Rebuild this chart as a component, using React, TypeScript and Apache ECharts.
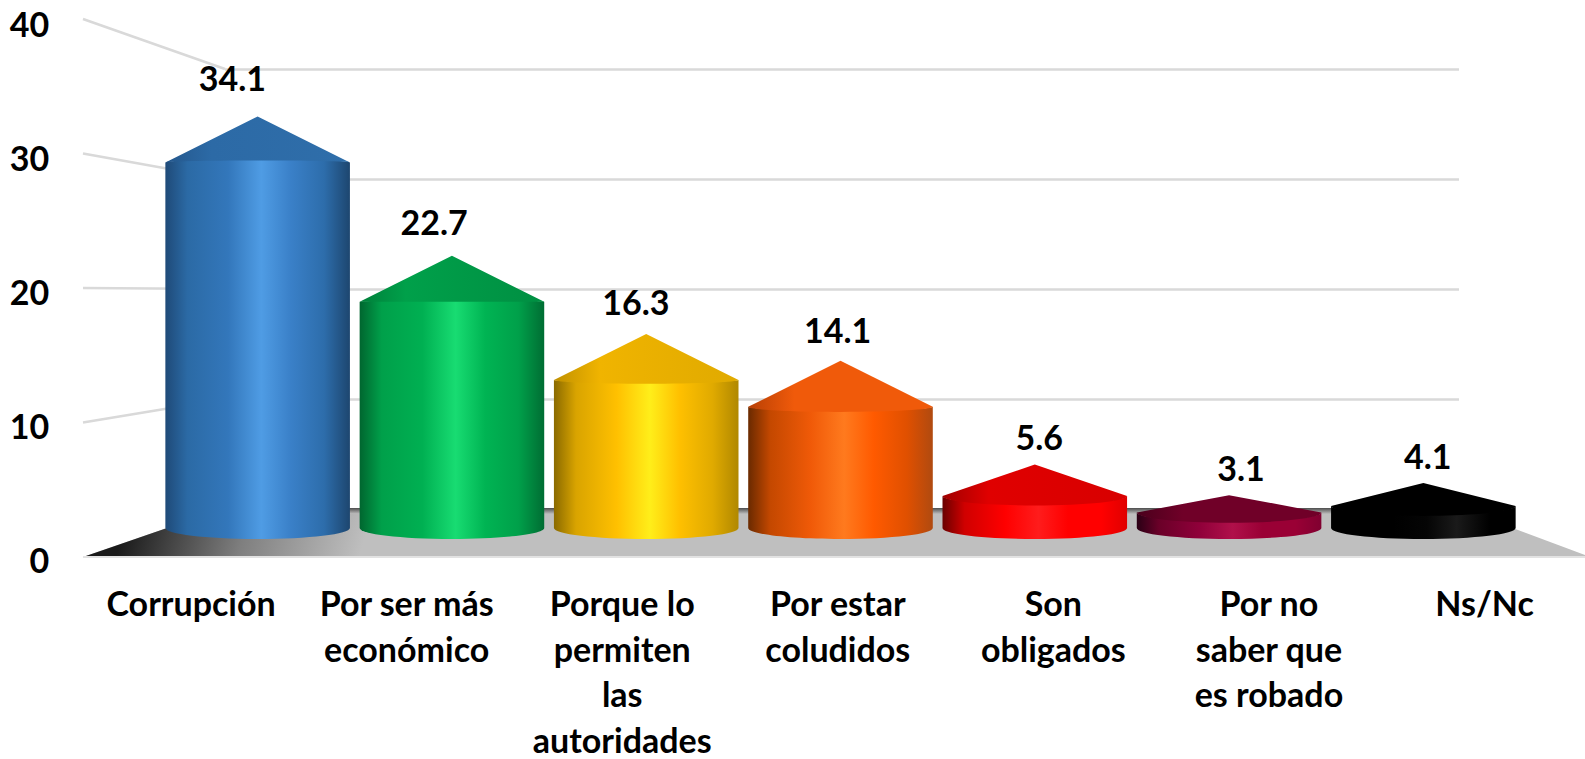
import React, { useEffect, useRef } from "react";
import * as echarts from "echarts";

const categories = [
  "Corrupción",
  "Por ser más\neconómico",
  "Porque lo\npermiten\nlas\nautoridades",
  "Por estar\ncoludidos",
  "Son\nobligados",
  "Por no\nsaber que\nes robado",
  "Ns/Nc",
];
const values = [34.1, 22.7, 16.3, 14.1, 5.6, 3.1, 4.1];
const yTicks = [0, 10, 20, 30, 40];

const bodyStops = [0, 0.12, 0.34, 0.52, 0.68, 0.86, 1];
const bodyColors = [
  ["#1f4a78", "#2b6aa5", "#3377bb", "#4f9ce4", "#3a80c8", "#2d6dab", "#1d466f"],
  ["#00662f", "#00a04a", "#00b052", "#18dc72", "#00b453", "#00a04a", "#006d33"],
  ["#8a6a00", "#d9a400", "#ffc000", "#ffee1a", "#ffc000", "#e0aa00", "#b08800"],
  ["#6a2a00", "#c44800", "#f05a08", "#ff7a1e", "#ff5a00", "#e05000", "#b04a10"],
  ["#6a0000", "#d00000", "#ff0000", "#ff1c1c", "#ff0000", "#ff0000", "#e00000"],
  ["#2a0015", "#6a0028", "#90003a", "#b0104a", "#9a0035", "#9a0035", "#800030"],
  ["#000000", "#000000", "#000000", "#050505", "#1a1a1a", "#000000", "#000000"],
];
const coneColors = [
  ["#24578c", "#2c6aa6", "#2f6eaa"],
  ["#007f3a", "#00a04a", "#008f42"],
  ["#c09000", "#f0b400", "#e0aa00"],
  ["#b84005", "#f05a0a", "#f05a0a"],
  ["#a00000", "#e00000", "#d80000"],
  ["#4a001c", "#700028", "#700028"],
  ["#000000", "#000000", "#000000"],
];

const FONT = "Lato";
const FONT_SIZE = 34;
const GRID_COLOR = "#d9d9d9";
// chart planes: axis-label plane, back wall, bar plane, value-label plane
const FRONT = { left: 83.3, top: 23.3, width: 1509, height: 535.7 };
const WALL_FRONT = { left: 83, top: 19, height: 538 };
const BACK = { left: 225, top: 69, width: 1234, height: 440 };
const MID = { left: 160.5, top: 44.5, width: 1360, height: 488.5 };
const LABEL = { left: 131.6, top: 3.6, width: 1412, height: 503.4 };

const K = 0.5523;
function arcTo(ctx: any, x0: number, x1: number, y: number, ry: number) {
  const cx = (x0 + x1) / 2;
  const rx = (x1 - x0) / 2;
  ctx.bezierCurveTo(x0, y + ry * K, cx - rx * K, y + ry, cx, y + ry);
  ctx.bezierCurveTo(cx + rx * K, y + ry, x1, y + ry * K, x1, y);
}

echarts.graphic.registerShape(
  "cylBody",
  echarts.graphic.extendShape({
    shape: { cx: 0, w: 0, top: 0, topRy: 0, base: 0, baseRy: 0 },
    buildPath(ctx: any, s: any) {
      ctx.moveTo(s.cx - s.w, s.top);
      ctx.lineTo(s.cx - s.w, s.base);
      arcTo(ctx, s.cx - s.w, s.cx + s.w, s.base, s.baseRy);
      ctx.lineTo(s.cx + s.w, s.top);
      const rx = s.w;
      ctx.bezierCurveTo(s.cx + s.w, s.top + s.topRy * K, s.cx + rx * K, s.top + s.topRy, s.cx, s.top + s.topRy);
      ctx.bezierCurveTo(s.cx - rx * K, s.top + s.topRy, s.cx - s.w, s.top + s.topRy * K, s.cx - s.w, s.top);
      ctx.closePath();
    },
  })
);
echarts.graphic.registerShape(
  "cylCone",
  echarts.graphic.extendShape({
    shape: { cx: 0, w: 0, apex: 0, top: 0, topRy: 0 },
    buildPath(ctx: any, s: any) {
      ctx.moveTo(s.cx, s.apex);
      ctx.lineTo(s.cx - s.w, s.top);
      arcTo(ctx, s.cx - s.w, s.cx + s.w, s.top, s.topRy);
      ctx.closePath();
    },
  })
);

function hGrad(colors: string[], stops: number[]) {
  return new echarts.graphic.LinearGradient(
    0, 0, 1, 0,
    colors.map((color, i) => ({ offset: stops[i], color }))
  );
}

function renderBar(params: any, api: any) {
  const i = api.value(0);
  const v = api.value(1);
  const [cx, apex] = api.coord([i, v]);
  const floor = api.coord([i, 0])[1];
  const base = floor - 5;
  const w = api.size([1, 0])[0] * 0.475;
  const h = floor - apex;
  const shoulder = Math.min(46, h * 0.46);
  const top = apex + shoulder;
  const topRy = Math.max(-2, ((top - 303) / 225) * 11);
  return {
    type: "group",
    children: [
      {
        type: "cylBody",
        shape: { cx, w, top, topRy: topRy - 1.5, base, baseRy: 11 },
        style: { fill: hGrad(bodyColors[i], bodyStops) },
      },
      {
        type: "cylCone",
        shape: { cx, w, apex, top, topRy },
        style: { fill: hGrad(coneColors[i], [0, 0.25, 1]) },
      },
    ],
  };
}

function renderValue(params: any, api: any) {
  const i = api.value(0);
  const v = api.value(1);
  const [x, y] = api.coord([i, v]);
  return {
    type: "text",
    x: i === values.length - 1 ? x - 15 : x,
    y,
    style: {
      text: v.toFixed(1),
      fill: "#000000",
      font: `bold ${FONT_SIZE}px ${FONT}`,
      align: "center",
      verticalAlign: "middle",
    },
  };
}

function hiddenX(gridIndex: number) {
  return {
    type: "category" as const,
    gridIndex,
    data: categories,
    boundaryGap: true,
    axisLine: { show: false },
    axisTick: { show: false },
    axisLabel: { show: false },
    splitLine: { show: false },
  };
}
function hiddenY(gridIndex: number, gridLines: boolean) {
  return {
    type: "value" as const,
    gridIndex,
    min: yTicks[0],
    max: yTicks[yTicks.length - 1],
    interval: 10,
    axisLine: { show: false },
    axisTick: { show: false },
    axisLabel: { show: false },
    splitLine: { show: gridLines, lineStyle: { color: GRID_COLOR, width: 2.5 } },
  };
}

function sideLines() {
  return yTicks.slice(1).map((t) => ({
    type: "line",
    z: 0,
    shape: {
      x1: WALL_FRONT.left,
      y1: WALL_FRONT.top + WALL_FRONT.height * (1 - t / 40),
      x2: BACK.left,
      y2: BACK.top + BACK.height * (1 - t / 40),
    },
    style: { stroke: GRID_COLOR, lineWidth: 2.5 },
  }));
}

export default function App() {
  const ref = useRef<HTMLDivElement>(null);
  useEffect(() => {
    const chart = echarts.init(ref.current!, null, { renderer: "svg" });
    chart.setOption({
      animation: false,
      backgroundColor: "#ffffff",
      grid: [FRONT, BACK, MID, LABEL].map((g) => ({
        ...g,
        containLabel: false,
        show: false,
        outerBoundsMode: "none",
      })),
      xAxis: [
        {
          ...hiddenX(0),
          axisLabel: {
            show: true,
            interval: 0,
            margin: 21,
            color: "#000000",
            fontFamily: FONT,
            fontWeight: "bold",
            fontSize: FONT_SIZE,
            lineHeight: 45.5,
          },
        },
        hiddenX(1),
        hiddenX(2),
        hiddenX(3),
      ],
      yAxis: [
        {
          ...hiddenY(0, false),
          axisLabel: {
            show: true,
            margin: 34,
            color: "#000000",
            fontFamily: FONT,
            fontWeight: "bold",
            fontSize: FONT_SIZE,
            verticalAlignMinLabel: "middle",
            verticalAlignMaxLabel: "middle",
          },
        },
        hiddenY(1, true),
        hiddenY(2, false),
        hiddenY(3, false),
      ],
      graphic: {
        elements: [
          ...sideLines(),
          {
            type: "polygon",
            z: 1,
            shape: { points: [[83, 557], [225, 508], [1459, 508], [1585, 555], [1585, 557]] },
            style: { fill: "#bfbfbf" },
          },
          {
            type: "polygon",
            z: 1,
            shape: { points: [[83, 557], [225, 508], [460, 508], [460, 557]] },
            style: {
              fill: new echarts.graphic.LinearGradient(
                125, 525, 350, 590,
                [
                  { offset: 0, color: "#1a1a1a" },
                  { offset: 0.5, color: "#7f7f7f" },
                  { offset: 1, color: "#bfbfbf" },
                ],
                true
              ),
            },
          },
          {
            type: "rect",
            z: 1,
            shape: { x: 225, y: 508, width: 1234, height: 6 },
            style: {
              fill: new echarts.graphic.LinearGradient(0, 0, 0, 1, [
                { offset: 0, color: "#4d4d4d" },
                { offset: 1, color: "#bfbfbf" },
              ]),
            },
          },
          {
            type: "rect",
            z: 1,
            shape: { x: 83, y: 556, width: 1502, height: 2 },
            style: { fill: "#e2e2e2" },
          },
        ],
      },
      series: [
        {
          type: "custom",
          xAxisIndex: 2,
          yAxisIndex: 2,
          z: 3,
          clip: false,
          renderItem: renderBar,
          encode: { x: 0, y: 1 },
          data: values.map((v, i) => [i, v]),
        },
        {
          type: "custom",
          xAxisIndex: 3,
          yAxisIndex: 3,
          z: 4,
          clip: false,
          silent: true,
          renderItem: renderValue,
          encode: { x: 0, y: 1 },
          data: values.map((v, i) => [i, v]),
        },
      ],
    });
    return () => chart.dispose();
  }, []);
  return (
    <div style={{ position: "fixed", left: 0, top: 0, width: 1585, height: 759, overflow: "hidden" }}>
      <div ref={ref} style={{ width: 1700, height: 800 }} />
    </div>
  );
}
